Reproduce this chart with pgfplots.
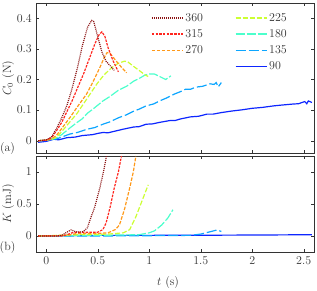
\documentclass[border=0pt,12pt]{standalone}
\usepackage{pgfplots}
\pgfplotsset{compat=1.18}
\definecolor{c360}{rgb}{0.55,0.08,0.08}
\definecolor{c315}{rgb}{1,0.15,0.12}
\definecolor{c270}{rgb}{1,0.6,0.1}
\definecolor{c225}{rgb}{0.8,1,0.2}
\definecolor{c180}{rgb}{0.3,1,0.8}
\definecolor{c135}{rgb}{0.05,0.65,1}
\definecolor{c90}{rgb}{0.05,0.15,1}
\definecolor{axc}{rgb}{0.2,0.2,0.2}
\pgfplotsset{
  mystyle/.style={
    scale only axis, width=278bp, clip mode=individual,
    xmin=-0.1, xmax=2.6,
    xtick={0,0.5,1,1.5,2,2.5},
    tick align=inside, major tick length=3bp,
    axis line style={axc}, every tick/.style={axc},
    tick label style={text=axc},
    label style={text=axc},
  },
}
\begin{document}
\begin{tikzpicture}
\path[use as bounding box] (0,0) rectangle (317bp,291bp);
\begin{axis}[mystyle,
  at={(36bp,138bp)}, anchor=south west, height=150bp,
  ymin=-0.04, ymax=0.45,
  ytick={0,0.1,0.2,0.3,0.4},
  yticklabels={0,0.1,0.2,0.3,0.4},
  xticklabels={},
  ylabel={$C_0$ (N)},
  ylabel style={at={(axis description cs:-0.1,0.5)}, anchor=center},
  legend columns=2,
  legend cell align=left,
  legend style={draw=none, fill=none, at={(rel axis cs:0.403,0.96)}, anchor=north west,
    text=axc, row sep=2.3bp,
    /tikz/every even column/.append style={column sep=30bp}},
  legend image code/.code={\draw[#1] (0bp,0bp) -- (31bp,0bp);},
]
\addlegendimage{draw=c360, line width=1.2pt, dash pattern=on 1bp off 1bp}\addlegendentry{360}
\addlegendimage{draw=c225, line width=1.2pt, dash pattern=on 5bp off 2bp}\addlegendentry{225}
\addlegendimage{draw=c315, line width=1.2pt, dash pattern=on 2.5bp off 1.2bp}\addlegendentry{315}
\addlegendimage{draw=c180, line width=1.2pt, dash pattern=on 9bp off 2bp}\addlegendentry{180}
\addlegendimage{draw=c270, line width=1.2pt, dash pattern=on 3.5bp off 1.5bp}\addlegendentry{270}
\addlegendimage{draw=c135, line width=1.2pt, dash pattern=on 10bp off 3bp}\addlegendentry{135}
\addlegendimage{empty legend}\addlegendentry{}
\addlegendimage{draw=c90, line width=1.2pt, solid}\addlegendentry{90}
\addplot[c90, line width=1.2pt, solid, forget plot] coordinates {(-0.08,-0.005)(0,-0.002)(0.07,0.005)(0.12,0.003)(0.2,0.01)(0.28,0.012)(0.35,0.017)(0.45,0.02)(0.5,0.024)(0.55,0.027)(0.6,0.026)(0.65,0.03)(0.75,0.038)(0.85,0.045)(0.9,0.046)(0.97,0.054)(1.03,0.055)(1.1,0.06)(1.2,0.066)(1.25,0.066)(1.3,0.071)(1.4,0.078)(1.48,0.08)(1.56,0.087)(1.62,0.087)(1.7,0.092)(1.8,0.097)(1.9,0.101)(2.0,0.106)(2.1,0.109)(2.21,0.114)(2.3,0.117)(2.4,0.12)(2.45,0.121)(2.51,0.128)(2.53,0.121)(2.545,0.13)(2.58,0.125)};
\addplot[c135, line width=1.2pt, dash pattern=on 10bp off 3bp, forget plot] coordinates {(-0.08,0)(0,0.001)(0.1,0.006)(0.23,0.022)(0.3,0.027)(0.4,0.038)(0.47,0.043)(0.55,0.054)(0.62,0.062)(0.7,0.075)(0.78,0.085)(0.85,0.097)(0.9,0.103)(0.97,0.114)(1.04,0.12)(1.1,0.13)(1.17,0.14)(1.24,0.152)(1.3,0.16)(1.35,0.168)(1.4,0.168)(1.45,0.175)(1.52,0.178)(1.59,0.186)(1.63,0.184)(1.65,0.19)(1.67,0.176)(1.70,0.19)};
\addplot[c180, line width=1.2pt, dash pattern=on 9bp off 2bp, forget plot] coordinates {(-0.08,0)(0,0.002)(0.1,0.01)(0.15,0.02)(0.23,0.042)(0.3,0.06)(0.35,0.072)(0.4,0.09)(0.47,0.108)(0.55,0.13)(0.62,0.145)(0.7,0.165)(0.78,0.178)(0.85,0.195)(0.9,0.203)(0.96,0.215)(1.0,0.218)(1.05,0.218)(1.1,0.21)(1.16,0.2)(1.18,0.205)(1.21,0.212)};
\addplot[c225, line width=1.2pt, dash pattern=on 5bp off 2bp, forget plot] coordinates {(-0.08,0)(0,0.002)(0.05,0.004)(0.1,0.012)(0.15,0.03)(0.23,0.062)(0.3,0.09)(0.4,0.14)(0.49,0.185)(0.56,0.215)(0.64,0.24)(0.7,0.253)(0.76,0.26)(0.79,0.258)(0.84,0.245)(0.9,0.23)(0.96,0.215)(0.99,0.21)};
\addplot[c270, line width=1.2pt, dash pattern=on 3.5bp off 1.5bp, forget plot] coordinates {(-0.08,0)(0,0.002)(0.05,0.006)(0.1,0.018)(0.15,0.04)(0.23,0.076)(0.3,0.11)(0.39,0.152)(0.45,0.19)(0.52,0.239)(0.56,0.27)(0.59,0.288)(0.62,0.285)(0.68,0.26)(0.73,0.24)(0.78,0.222)};
\addplot[c315, line width=1.2pt, dash pattern=on 2.5bp off 1.2bp, forget plot] coordinates {(-0.08,0)(0,0.002)(0.05,0.01)(0.1,0.033)(0.15,0.06)(0.2,0.095)(0.25,0.13)(0.3,0.17)(0.36,0.217)(0.42,0.27)(0.47,0.315)(0.51,0.345)(0.54,0.356)(0.57,0.34)(0.6,0.304)(0.65,0.26)(0.7,0.225)};
\addplot[c360, line width=1.2pt, dash pattern=on 1bp off 1bp, forget plot] coordinates {(-0.08,0)(0,0.003)(0.05,0.012)(0.1,0.04)(0.15,0.075)(0.2,0.115)(0.25,0.17)(0.3,0.235)(0.35,0.31)(0.4,0.37)(0.44,0.393)(0.46,0.39)(0.5,0.34)(0.54,0.29)(0.58,0.26)(0.62,0.245)(0.66,0.23)};
\node[text=axc] at (axis description cs:-0.1025,0.033) {(a)};
\end{axis}
\begin{axis}[mystyle,
  at={(36bp,39bp)}, anchor=south west, height=96bp,
  ymin=-0.25, ymax=1.25,
  ytick={0,0.5,1},
  yticklabels={0,0.5,1},
  xticklabels={0,0.5,1,1.5,2,2.5},
  ylabel={$K$ (mJ)},
  ylabel style={at={(axis description cs:-0.1,0.5)}, anchor=center},
  xlabel={$t$ (s)},
  xlabel style={at={(axis description cs:0.475,-0.323)}, anchor=center},
]
\addplot[c90, line width=1.2pt, solid] coordinates {(-0.08,0.0)(0.5,0.01)(1.0,0.01)(1.5,0.012)(2.0,0.015)(2.58,0.02)};
\addplot[c135, line width=1.2pt, dash pattern=on 10bp off 3bp] coordinates {(-0.08,0)(0.5,0.0)(1.0,0.005)(1.4,0.01)(1.5,0.03)(1.6,0.07)(1.66,0.095)(1.7,0.07)};
\addplot[c180, line width=1.2pt, dash pattern=on 9bp off 2bp] coordinates {(-0.08,0)(0.5,0.01)(0.9,0.02)(1.0,0.05)(1.05,0.08)(1.12,0.17)(1.18,0.28)(1.23,0.41)};
\addplot[c225, line width=1.2pt, dash pattern=on 5bp off 2bp] coordinates {(-0.08,0)(0.3,0.02)(0.6,0.03)(0.75,0.05)(0.81,0.1)(0.87,0.3)(0.93,0.55)(0.99,0.8)};
\addplot[c270, line width=1.2pt, dash pattern=on 3.5bp off 1.5bp] coordinates {(-0.08,0)(0.2,0.01)(0.3,0.04)(0.5,0.04)(0.6,0.05)(0.67,0.1)(0.71,0.17)(0.76,0.42)(0.81,0.75)(0.845,1.0)(0.87,1.25)};
\addplot[c315, line width=1.2pt, dash pattern=on 2.5bp off 1.2bp] coordinates {(-0.08,0)(0.15,0)(0.2,0.02)(0.25,0.05)(0.3,0.06)(0.4,0.06)(0.5,0.06)(0.55,0.1)(0.58,0.2)(0.62,0.45)(0.66,0.75)(0.7,1.0)(0.73,1.25)};
\addplot[c360, line width=1.2pt, dash pattern=on 1bp off 1bp] coordinates {(-0.08,0)(0.1,0)(0.15,0.01)(0.2,0.06)(0.24,0.095)(0.28,0.07)(0.32,0.06)(0.36,0.07)(0.4,0.13)(0.42,0.23)(0.47,0.45)(0.52,0.75)(0.555,1.0)(0.585,1.25)};
\node[text=axc] at (axis description cs:-0.1025,0.042) {(b)};
\end{axis}
\end{tikzpicture}
\end{document}
